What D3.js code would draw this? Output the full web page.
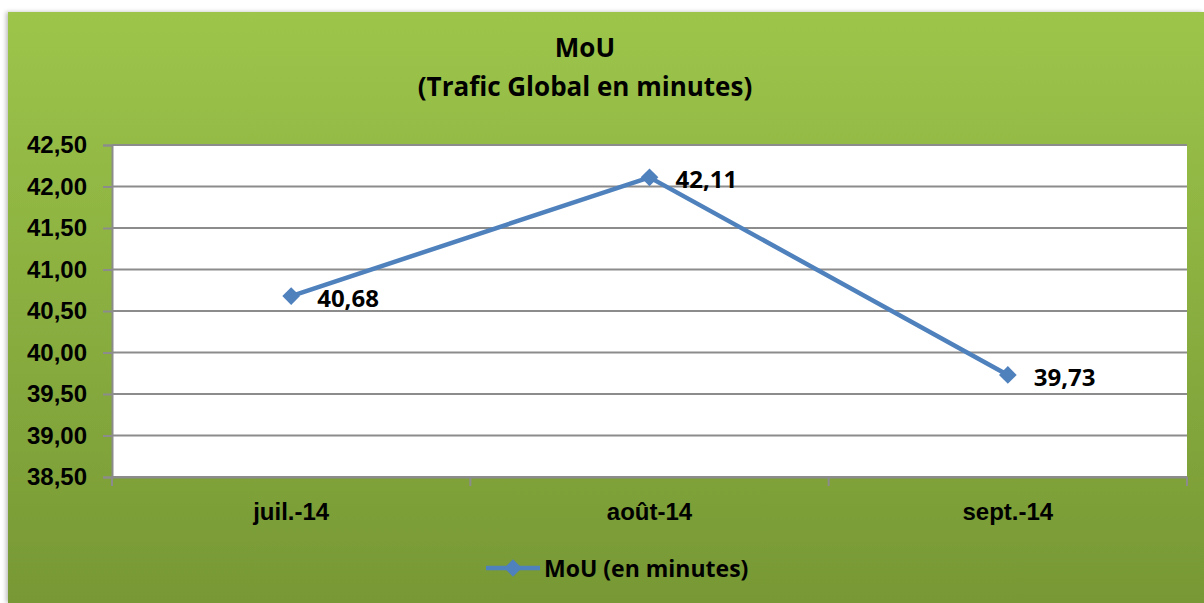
<!DOCTYPE html>
<html>
<head>
<meta charset="utf-8">
<script src="https://cdn.jsdelivr.net/npm/d3@7"></script>
<style>
  body { margin: 0; background: #fff; }
  svg { display: block; font-family: 'Open Sans', sans-serif; font-weight: 700; }
</style>
</head>
<body>
<div id="chart"></div>
<script>
const months = ['juil.-14', 'août-14', 'sept.-14']
const mou = [40.68, 42.11, 39.73]
const yTicks = [38.5, 39, 39.5, 40, 40.5, 41, 41.5, 42, 42.5]
const seriesName = 'MoU (en minutes)'

const W = 1204, H = 603
const margin = { top: 145, right: 17, bottom: 126, left: 112 },
  width = W - margin.left - margin.right,
  height = H - margin.top - margin.bottom

const fmt = (v) => d3.format('.2f')(v).replace('.', ',')

const svg = d3.select('#chart').append('svg').attr('width', W).attr('height', H)

const defs = svg.append('defs')
const grad = defs.append('linearGradient').attr('id', 'bg').attr('x1', 0).attr('y1', 0).attr('x2', 0).attr('y2', 1)
grad.append('stop').attr('offset', '0%').attr('stop-color', '#9dc54a')
grad.append('stop').attr('offset', '100%').attr('stop-color', '#779835')
const shadow = defs.append('filter').attr('id', 'sh').attr('x', -0.05).attr('y', -0.05).attr('width', 1.1).attr('height', 1.1)
shadow.append('feDropShadow').attr('dx', -2).attr('dy', 0).attr('stdDeviation', 2).attr('flood-color', '#000').attr('flood-opacity', 0.25)

// chart area background
svg.append('rect').attr('x', 8).attr('y', 12).attr('width', W - 8).attr('height', H - 12)
  .attr('fill', 'url(#bg)').attr('filter', 'url(#sh)')

// title
svg.append('text').attr('x', 585).attr('y', 57).attr('text-anchor', 'middle')
  .style('font-size', '26px').text('MoU')
svg.append('text').attr('x', 585).attr('y', 96).attr('text-anchor', 'middle')
  .style('font-size', '26px').text('(Trafic Global en minutes)')

const g = svg.append('g').attr('transform', `translate(${margin.left},${margin.top})`)

g.append('rect').attr('width', width).attr('height', height).attr('fill', '#fff')

const x = d3.scaleBand().domain(months).range([0, width])
const y = d3.scaleLinear().domain([38.5, 42.5]).range([height, 0])

// gridlines
g.selectAll('.grid').data(yTicks).enter().append('line')
  .attr('x1', 0).attr('x2', width)
  .attr('y1', (d) => y(d)).attr('y2', (d) => y(d))
  .attr('stroke', '#8c8c8c').attr('stroke-width', 2)

// y axis
const yAxis = g.append('g')
  .call(d3.axisLeft(y).tickValues(yTicks).tickFormat(fmt).tickSize(9).tickPadding(16))
yAxis.select('.domain').attr('stroke', '#8c8c8c').attr('stroke-width', 2)
yAxis.selectAll('.tick line').attr('stroke', '#8c8c8c').attr('stroke-width', 2)
yAxis.selectAll('text').style('font-size', '24px').attr('fill', '#000')

// x axis
const xAxis = g.append('g').attr('transform', `translate(0,${height})`)
  .call(d3.axisBottom(x).tickSize(0).tickPadding(26))
xAxis.select('.domain').attr('stroke', '#8c8c8c').attr('stroke-width', 2)
xAxis.selectAll('text').style('font-size', '24px').attr('fill', '#000')
xAxis.selectAll('.sep').data(d3.range(months.length + 1)).enter().append('line')
  .attr('x1', (i) => i * x.bandwidth()).attr('x2', (i) => i * x.bandwidth())
  .attr('y1', 0).attr('y2', 9).attr('stroke', '#8c8c8c').attr('stroke-width', 2)

const pts = months.map((m, i) => ({ m, v: mou[i] }))
const line = d3.line().x((d) => x(d.m) + x.bandwidth() / 2).y((d) => y(d.v))

g.append('path').datum(pts).attr('d', line)
  .attr('fill', 'none').attr('stroke', '#4f81bd').attr('stroke-width', 4.5)

const diamond = d3.symbol().type(d3.symbolDiamond2).size(200)
g.selectAll('.pt').data(pts).enter().append('path')
  .attr('d', diamond)
  .attr('transform', (d) => `translate(${x(d.m) + x.bandwidth() / 2},${y(d.v)})`)
  .attr('fill', '#4f81bd')

g.selectAll('.lbl').data(pts).enter().append('text')
  .attr('x', (d) => x(d.m) + x.bandwidth() / 2 + 26)
  .attr('y', (d) => y(d.v) + 11)
  .style('font-size', '24px').attr('fill', '#000')
  .text((d) => fmt(d.v))

// legend
const lg = svg.append('g').attr('transform', 'translate(486,568)')
lg.append('line').attr('x1', 0).attr('x2', 54).attr('stroke', '#4f81bd').attr('stroke-width', 4.5)
lg.append('path').attr('d', diamond).attr('transform', 'translate(27,0)').attr('fill', '#4f81bd')
lg.append('text').attr('x', 58).attr('y', 9).style('font-size', '23px').attr('fill', '#000').text(seriesName)
</script>
</body>
</html>
